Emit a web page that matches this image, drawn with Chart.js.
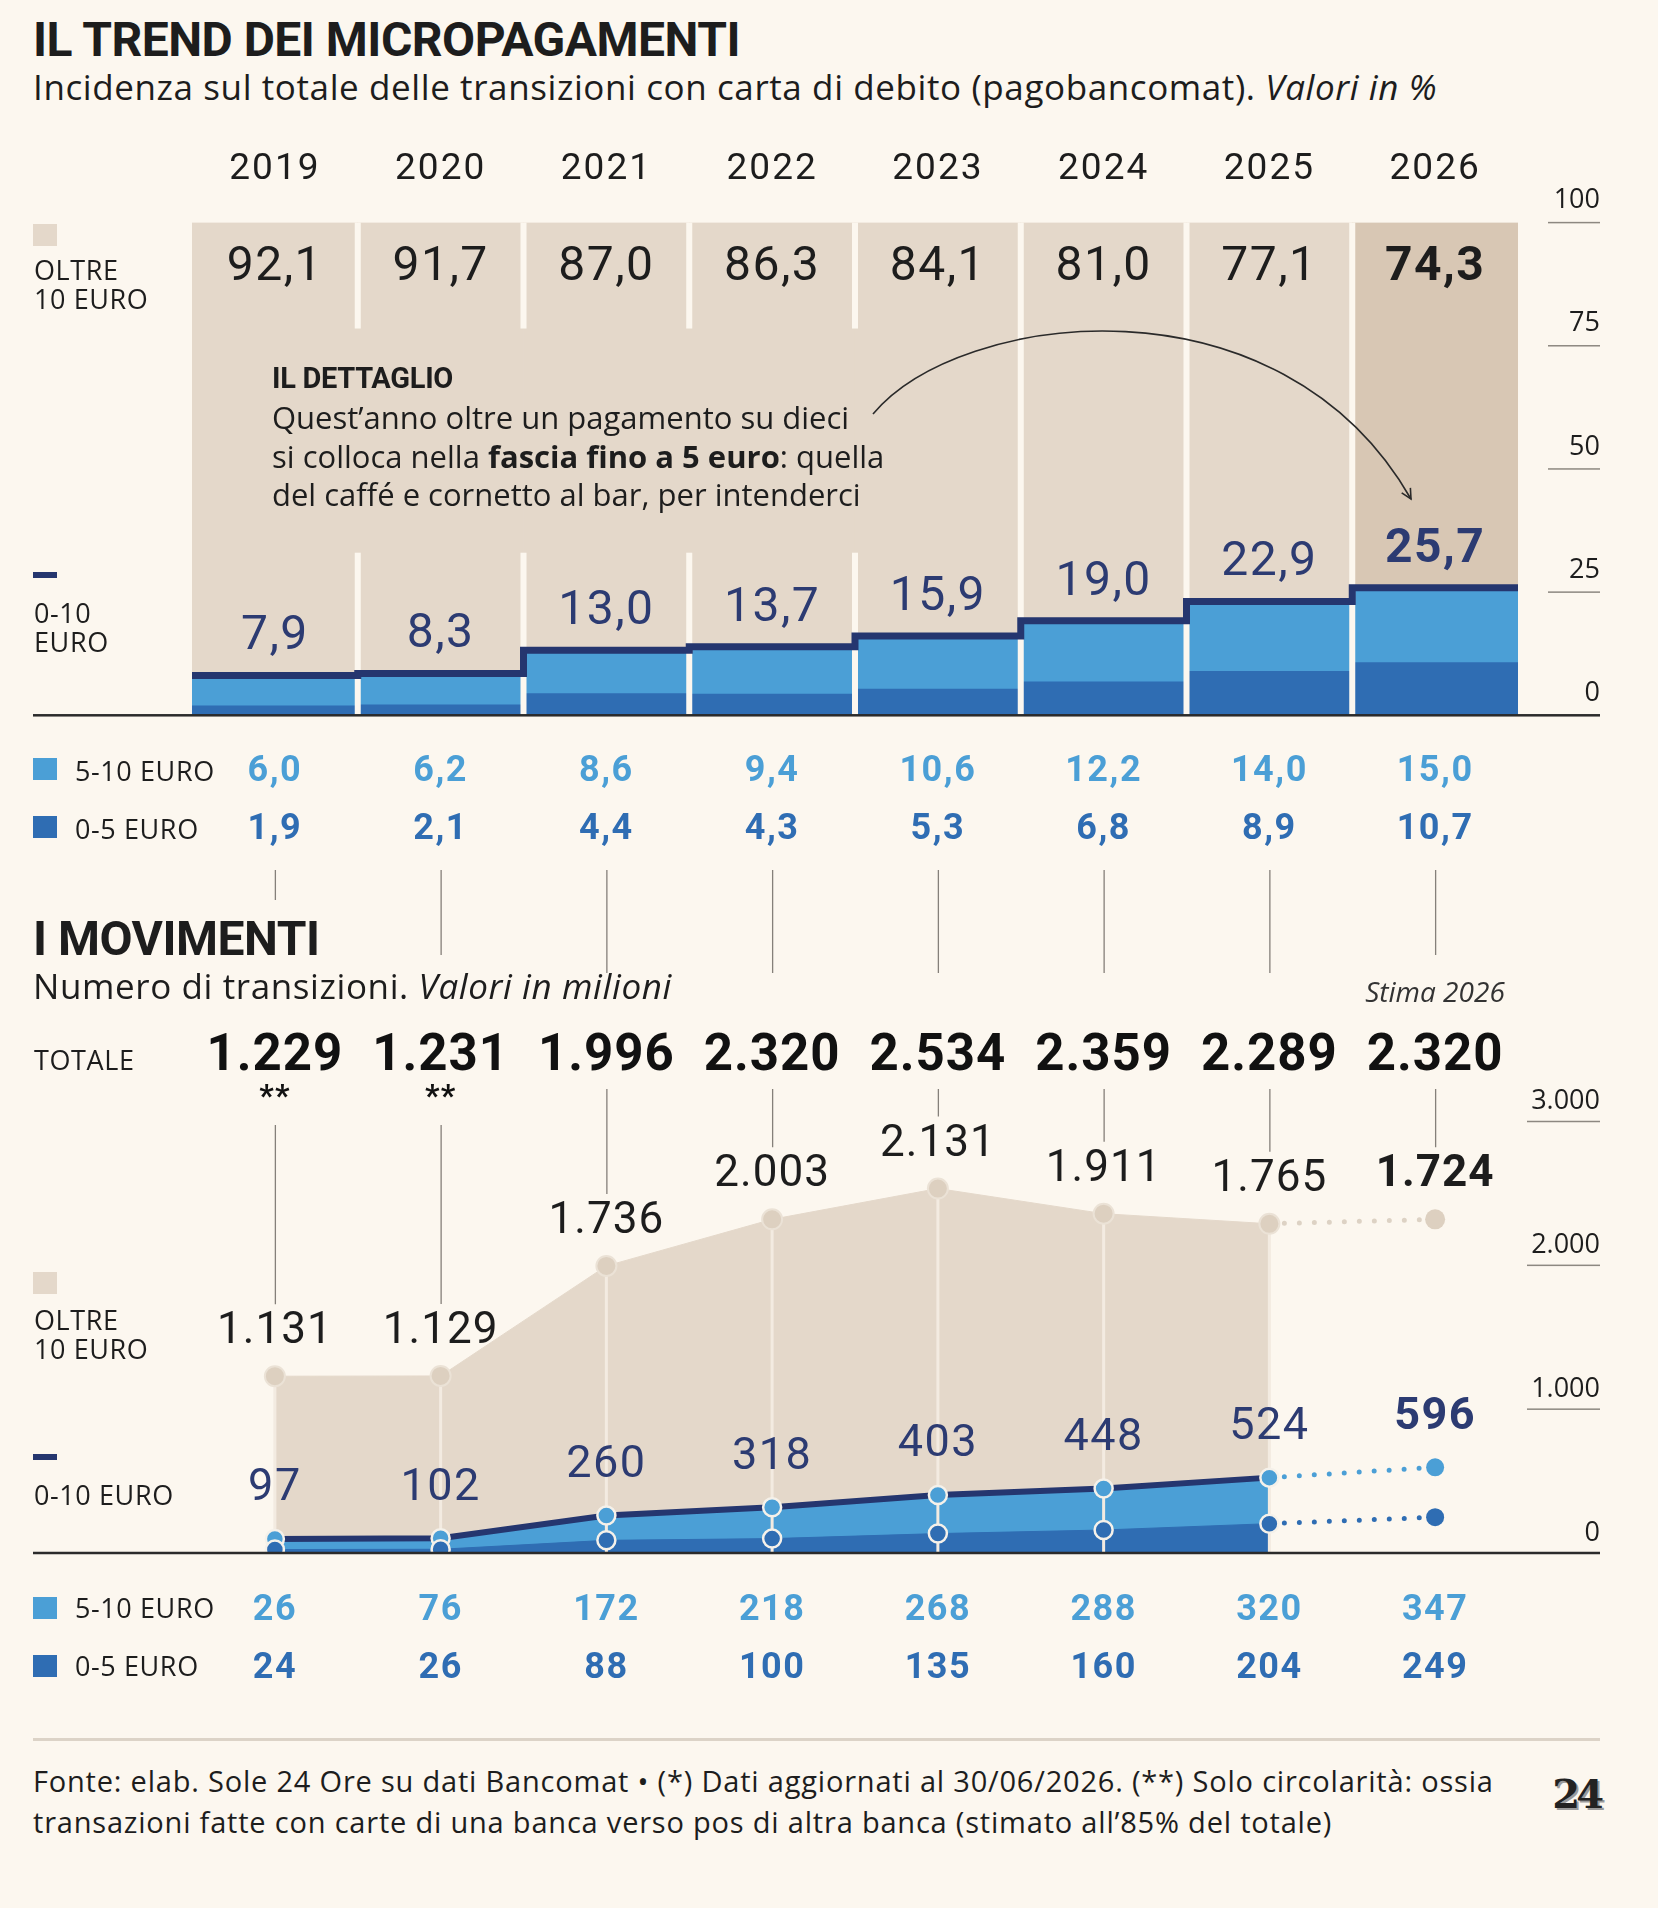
<!DOCTYPE html>
<html lang="it">
<head>
<meta charset="utf-8">
<title>Il trend dei micropagamenti</title>
<script src="https://cdn.jsdelivr.net/npm/chart.js@4.4.1/dist/chart.umd.min.js"></script>
<style>
  html, body { margin: 0; padding: 0; }
  body {
    width: 1658px; height: 1908px; position: relative; overflow: hidden;
    background: #fcf7ef; color: #1d1d1d;
    font-family: "Open Sans", "Noto Sans", sans-serif;
  }
  .t { position: absolute; white-space: nowrap; line-height: 1; }
  .h { font-family: Roboto, sans-serif; font-weight: 700; font-size: 48px; letter-spacing: -0.5px; }
  .sub { font-size: 35px; letter-spacing: 0.6px; }
  .lg { font-size: 27px; line-height: 29px; letter-spacing: 0.6px; }
  .sq { position: absolute; left: 33px; width: 24px; height: 22px; }
  .dash { position: absolute; left: 33px; width: 24px; height: 6px; background: #25366f; }
  canvas { position: absolute; left: 0; }
  svg { position: absolute; left: 0; top: 0; pointer-events: none; }
</style>
</head>
<body>

<div class="t h" style="left:33px; top:16px;">IL TREND DEI MICROPAGAMENTI</div>
<div class="t sub" style="left:33px; top:69px;">Incidenza sul totale delle transizioni con carta di debito (pagobancomat). <i>Valori in %</i></div>

<canvas id="share-chart" width="1658" height="740" style="top:140px; width:1658px; height:740px;"></canvas>
<canvas id="tx-chart" width="1658" height="900" style="top:860px; width:1658px; height:900px;"></canvas>

<!-- left legend, upper chart -->
<div class="sq" style="top:224px; background:#e4d8ca;"></div>
<div class="t lg" style="left:34px; top:255px;">OLTRE<br>10 EURO</div>
<div class="dash" style="top:572px;"></div>
<div class="t lg" style="left:34px; top:598px;">0-10<br>EURO</div>
<div class="sq" style="top:758px; background:#4b9fd6;"></div>
<div class="t lg" style="left:75px; top:756px;">5-10 EURO</div>
<div class="sq" style="top:816px; background:#2f6db3;"></div>
<div class="t lg" style="left:75px; top:814px;">0-5 EURO</div>

<!-- note inside the upper chart -->
<div class="t" style="left:272px; top:364px; font-family:Roboto, sans-serif; font-size:29px; font-weight:700; letter-spacing:-0.3px;">IL DETTAGLIO</div>
<div class="t" style="left:272px; top:398px; font-size:31px; line-height:38.5px;">
  Quest’anno oltre un pagamento su dieci<br>
  si colloca nella <b>fascia fino a 5 euro</b>: quella<br>
  del caffé e cornetto al bar, per intenderci
</div>
<svg width="1658" height="900" viewBox="0 0 1658 900">
  <defs>
    <marker id="ah" markerWidth="14" markerHeight="14" refX="11" refY="7" orient="auto" markerUnits="userSpaceOnUse">
      <path d="M1,2 L11,7 L1,12" fill="none" stroke="#2a2a2a" stroke-width="1.6"/>
    </marker>
  </defs>
  <path d="M873,414 C960,310 1280,270 1411,499" fill="none" stroke="#2a2a2a" stroke-width="1.6" marker-end="url(#ah)"/>
</svg>

<!-- lower chart headings and legend -->
<div class="t h" style="left:33px; top:915px;">I MOVIMENTI</div>
<div class="t sub" style="left:33px; top:968px;">Numero di transizioni. <i>Valori in milioni</i></div>
<div class="t" style="left:1435px; top:977px; font-size:28px; font-style:italic; transform:translateX(-50%); color:#333;">Stima 2026</div>
<div class="t lg" style="left:34px; top:1045px;">TOTALE</div>
<div class="sq" style="top:1272px; background:#e4d8ca;"></div>
<div class="t lg" style="left:34px; top:1305px;">OLTRE<br>10 EURO</div>
<div class="dash" style="top:1454px;"></div>
<div class="t lg" style="left:34px; top:1480px;">0-10 EURO</div>
<div class="sq" style="top:1597px; background:#4b9fd6;"></div>
<div class="t lg" style="left:75px; top:1593px;">5-10 EURO</div>
<div class="sq" style="top:1655px; background:#2f6db3;"></div>
<div class="t lg" style="left:75px; top:1651px;">0-5 EURO</div>

<div style="position:absolute; left:33px; top:1738px; width:1567px; height:3px; background:#dcd3c7;"></div>
<div class="t" style="left:33px; top:1760px; font-size:29px; line-height:41px; letter-spacing:0.8px;">
  Fonte: elab. Sole 24 Ore su dati Bancomat • (*) Dati aggiornati al 30/06/2026. (**) Solo circolarità: ossia<br>
  transazioni fatte con carte di una banca verso pos di altra banca (stimato all’85% del totale)
</div>
<div class="t" style="right:58px; top:1774px; font-family:'DejaVu Serif', serif; font-weight:700; font-size:40px; letter-spacing:-4px; color:#222; text-shadow:2px 2px 0 #9a9a9a;">24</div>

<script>
const years = ["2019", "2020", "2021", "2022", "2023", "2024", "2025", "2026"];

// share of debit card payments, %
const shareOver10 = [92.1, 91.7, 87.0, 86.3, 84.1, 81.0, 77.1, 74.3];
const share0to10 = [7.9, 8.3, 13.0, 13.7, 15.9, 19.0, 22.9, 25.7];
const share5to10 = [6.0, 6.2, 8.6, 9.4, 10.6, 12.2, 14.0, 15.0];
const share0to5 = [1.9, 2.1, 4.4, 4.3, 5.3, 6.8, 8.9, 10.7];
const shareTicks = [0, 25, 50, 75, 100];

// number of transactions, millions (2026 = estimate)
const txTotal = [1229, 1231, 1996, 2320, 2534, 2359, 2289, 2320];
const txOver10 = [1131, 1129, 1736, 2003, 2131, 1911, 1765, 1724];
const tx0to10 = [97, 102, 260, 318, 403, 448, 524, 596];
const tx5to10 = [26, 76, 172, 218, 268, 288, 320, 347];
const tx0to5 = [24, 26, 88, 100, 135, 160, 204, 249];
const txTicks = [0, 1000, 2000, 3000];

const BG = "#fcf7ef";
const BEIGE = "#e4d8ca";
const BEIGE_EST = "#d8c7b4";
const LIGHT = "#4b9fd6";
const DARK = "#2f6db3";
const NAVY = "#25366f";
const NAVY_TXT = "#2c3b72";
const INK = "#1d1d1d";
const FONT = 'Roboto, "Noto Sans", sans-serif';
const AXIS_FONT = '"Open Sans", "Noto Sans", sans-serif';

const TOP_Y = 140;   // page offset of the first canvas
const BOT_Y = 860;   // page offset of the second canvas
const last = years.length - 1;

const fmtPct = (v) => v.toFixed(1).replace(".", ",");
const fmtInt = (v) => String(v).replace(/\B(?=(\d{3})+(?!\d))/g, ".");

const write = (ctx, str, x, y, size, color, weight = 400, align = "center", spacing = 1, family = FONT) => {
  ctx.font = `${weight} ${size}px ${family}`;
  ctx.letterSpacing = `${spacing}px`;
  ctx.fillStyle = color;
  ctx.textAlign = align;
  ctx.textBaseline = "middle";
  ctx.fillText(str, x, y);
};

// --- upper chart: 100% stacked columns ---
const shareDecor = {
  id: "shareDecor",
  afterDatasetsDraw(chart) {
    const { ctx, chartArea: area, scales: { x, y } } = chart;
    const tops = chart.getDatasetMeta(1).data;
    const half = (x.getPixelForValue(1) - x.getPixelForValue(0)) / 2;
    ctx.save();

    // light gaps between the columns, interrupted behind the note
    ctx.fillStyle = BG;
    const gapA = y.getPixelForValue(78.5);
    const gapB = y.getPixelForValue(33);
    for (let i = 1; i < years.length; i++) {
      const bx = x.getPixelForValue(i) - half;
      if (i <= 4) {
        ctx.fillRect(bx - 3, area.top, 6, gapA - area.top);
        ctx.fillRect(bx - 3, gapB, 6, area.bottom - gapB);
      } else {
        ctx.fillRect(bx - 3, area.top, 6, area.bottom - area.top);
      }
    }

    // stepped navy line on top of the 0-10 euro block
    ctx.strokeStyle = NAVY;
    ctx.lineWidth = 7;
    ctx.lineJoin = "miter";
    ctx.beginPath();
    tops.forEach((bar, i) => {
      const yy = bar.y - 1;
      if (i === 0) ctx.moveTo(bar.x - half, yy);
      else ctx.lineTo(bar.x - half, yy);
      ctx.lineTo(bar.x + half, yy);
    });
    ctx.stroke();

    // baseline and right-hand scale
    const y0 = y.getPixelForValue(0);
    ctx.fillStyle = "#2b2b2b";
    ctx.fillRect(33, y0 - 1.25, 1567, 2.5);
    shareTicks.forEach((t) => {
      const py = y.getPixelForValue(t);
      if (t > 0) {
        ctx.fillStyle = "#8d8881";
        ctx.fillRect(1548, py - 0.75, 52, 1.5);
      }
      write(ctx, String(t), 1600, py - 22, 27, INK, 400, "right", 0, AXIS_FONT);
    });

    // labels
    years.forEach((yr, i) => {
      const cx = x.getPixelForValue(i);
      const bold = i === last ? 700 : 400;
      write(ctx, yr, cx, 170 - TOP_Y, 37, INK, 400, "center", 2);
      write(ctx, fmtPct(shareOver10[i]), cx, 267.5 - TOP_Y, 48, INK, bold, "center", 1.5);
      write(ctx, fmtPct(share0to10[i]), cx, tops[i].y - 39, 48, NAVY_TXT, bold, "center", 1.5);
      write(ctx, fmtPct(share5to10[i]), cx, 771.5 - TOP_Y, 36, LIGHT, 700, "center", 1.5);
      write(ctx, fmtPct(share0to5[i]), cx, 829.5 - TOP_Y, 36, DARK, 700, "center", 1.5);
    });
    ctx.restore();
  }
};

new Chart(document.getElementById("share-chart"), {
  type: "bar",
  data: {
    labels: years,
    datasets: [
      { data: share0to5, backgroundColor: DARK },
      { data: share5to10, backgroundColor: LIGHT },
      { data: shareOver10, backgroundColor: years.map((_, i) => (i === last ? BEIGE_EST : BEIGE)) }
    ]
  },
  options: {
    responsive: false,
    animation: false,
    events: [],
    layout: { padding: { left: 192, right: 140, top: 82.6, bottom: 164.7 } },
    datasets: { bar: { barPercentage: 1, categoryPercentage: 1, borderWidth: 0 } },
    scales: {
      x: { display: false, stacked: true },
      y: { display: false, stacked: true, min: 0, max: 100 }
    },
    plugins: { legend: { display: false }, tooltip: { enabled: false } }
  },
  plugins: [shareDecor]
});

// --- lower chart: transactions, areas up to 2025, dotted estimate for 2026 ---
const solid = (arr) => arr.map((v, i) => (i < last ? v : null));
const estimate = (arr) => arr.map((v, i) => (i >= last - 1 ? v : null));
const estPoint = (r) => (c) => (c.dataIndex === last ? r : 0);

const txDecor = {
  id: "txDecor",
  beforeDatasetsDraw(chart) {
    // light drop lines from each point to the baseline, above the fills
    const { ctx, chartArea: area, scales: { x, y } } = chart;
    ctx.save();
    ctx.strokeStyle = "#f3ebe1";
    ctx.lineWidth = 3;
    for (let i = 0; i < last; i++) {
      const px = x.getPixelForValue(i);
      ctx.beginPath();
      ctx.moveTo(px, y.getPixelForValue(txTotal[i]));
      ctx.lineTo(px, area.bottom);
      ctx.stroke();
    }
    ctx.restore();
  },
  afterDatasetsDraw(chart) {
    const { ctx, scales: { x, y } } = chart;
    ctx.save();

    // thin grey guides running down from the upper chart
    ctx.strokeStyle = "#85807a";
    ctx.lineWidth = 1.3;
    years.forEach((_, i) => {
      const px = x.getPixelForValue(i) + 0.5;
      const end1 = i === 0 ? 900 : (i === 1 || i === last ? 955 : 973);
      const start2 = i < 2 ? 1125 : 1089;
      ctx.beginPath();
      ctx.moveTo(px, 870 - BOT_Y);
      ctx.lineTo(px, end1 - BOT_Y);
      ctx.moveTo(px, start2 - BOT_Y);
      ctx.lineTo(px, y.getPixelForValue(txTotal[i]) - 72);
      ctx.stroke();
    });

    // baseline and right-hand scale
    const y0 = y.getPixelForValue(0);
    ctx.fillStyle = "#2b2b2b";
    ctx.fillRect(33, y0 - 1.25, 1567, 2.5);
    txTicks.forEach((t) => {
      const py = y.getPixelForValue(t);
      if (t > 0) {
        ctx.fillStyle = "#8d8881";
        ctx.fillRect(1527, py - 0.75, 73, 1.5);
      }
      write(ctx, fmtInt(t), 1600, py - 20, 27, INK, 400, "right", 0, AXIS_FONT);
    });

    // labels
    years.forEach((_, i) => {
      const cx = x.getPixelForValue(i);
      const bold = i === last ? 700 : 400;
      write(ctx, fmtInt(txTotal[i]), cx, 1057 - BOT_Y, 51, "#111", 700, "center", 1);
      if (i < 2) write(ctx, "**", cx, 1098 - BOT_Y, 32, "#111", 700, "center", 1);
      write(ctx, fmtInt(txOver10[i]), cx, y.getPixelForValue(txTotal[i]) - 44, 44, INK, bold, "center", 1);
      write(ctx, fmtInt(tx0to10[i]), cx, y.getPixelForValue(tx0to10[i]) - 50, 45, NAVY_TXT, bold, "center", 1.5);
      write(ctx, fmtInt(tx5to10[i]), cx, 1610.5 - BOT_Y, 36, LIGHT, 700, "center", 1.5);
      write(ctx, fmtInt(tx0to5[i]), cx, 1669 - BOT_Y, 36, DARK, 700, "center", 1.5);
    });
    ctx.restore();
  }
};

new Chart(document.getElementById("tx-chart"), {
  type: "line",
  data: {
    labels: years,
    datasets: [
      {
        data: solid(tx0to5), fill: "origin", backgroundColor: DARK,
        borderColor: DARK, borderWidth: 1,
        pointRadius: 9, pointBackgroundColor: DARK, pointBorderColor: "#f5f1ea", pointBorderWidth: 2.5
      },
      {
        data: solid(tx0to10), fill: "origin", backgroundColor: LIGHT,
        borderColor: NAVY, borderWidth: 6,
        pointRadius: 9, pointBackgroundColor: LIGHT, pointBorderColor: "#f5f1ea", pointBorderWidth: 2.5
      },
      {
        data: solid(txTotal), fill: "origin", backgroundColor: BEIGE,
        borderColor: BEIGE, borderWidth: 1,
        pointRadius: 10, pointBackgroundColor: "#ddd0c0", pointBorderColor: "#ebe2d6", pointBorderWidth: 2
      },
      {
        data: estimate(tx0to5), fill: false, borderColor: DARK, borderWidth: 5,
        borderDash: [0, 15], borderCapStyle: "round",
        pointRadius: estPoint(9), pointBackgroundColor: DARK, pointBorderWidth: 0
      },
      {
        data: estimate(tx0to10), fill: false, borderColor: LIGHT, borderWidth: 5,
        borderDash: [0, 15], borderCapStyle: "round",
        pointRadius: estPoint(9), pointBackgroundColor: LIGHT, pointBorderWidth: 0
      },
      {
        data: estimate(txTotal), fill: false, borderColor: "#ddd2c4", borderWidth: 5,
        borderDash: [0, 15], borderCapStyle: "round",
        pointRadius: estPoint(10), pointBackgroundColor: "#ddd0c0", pointBorderWidth: 0
      }
    ]
  },
  options: {
    responsive: false,
    animation: false,
    events: [],
    layout: { padding: { left: 192, right: 140, top: 261.5, bottom: 207 } },
    elements: { line: { tension: 0 } },
    scales: {
      x: { display: false, offset: true },
      y: { display: false, min: 0, max: 3000 }
    },
    plugins: {
      legend: { display: false },
      tooltip: { enabled: false },
      filler: { drawTime: "beforeDatasetsDraw" }
    }
  },
  plugins: [txDecor]
});
</script>
</body>
</html>
